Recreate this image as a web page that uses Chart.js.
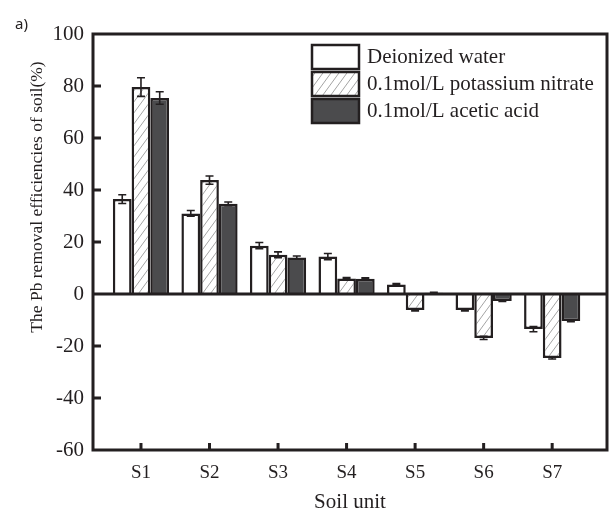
<!DOCTYPE html>
<html>
<head>
<meta charset="utf-8">
<script src="https://cdn.jsdelivr.net/npm/chart.js@4.4.1/dist/chart.umd.min.js"></script>
<style>
  html, body { margin: 0; padding: 0; background: #fff; }
</style>
</head>
<body>
<canvas id="chart" width="609" height="515"></canvas>
<script>
// Данные
const categories = ['S1', 'S2', 'S3', 'S4', 'S5', 'S6', 'S7'];
const seriesNames = ['Deionized water', '0.1mol/L potassium nitrate', '0.1mol/L acetic acid'];
const waterValues = [36.5, 31.0, 18.6, 14.4, 3.7, -6.2, -13.5];
const waterErrors = [1.7, 1.1, 1.2, 1.2, 0.3, 0.3, 1.0];
const nitrateValues = [79.6, 43.8, 15.1, 6.0, -6.2, -16.9, -24.6];
const nitrateErrors = [3.6, 1.6, 1.1, 0.3, 0.3, 0.6, 0.4];
const acidValues = [75.4, 34.7, 14.0, 5.9, 0.5, -2.7, -10.4];
const acidErrors = [2.4, 0.7, 0.6, 0.3, 0.2, 0.2, 0.3];
const yTicks = [-60, -40, -20, 0, 20, 40, 60, 80, 100];

const INK = '#231f20';
const DARK = '#4b4b4d';
const SERIF = '"Liberation Serif", "Times New Roman", serif';

const canvas = document.getElementById('chart');
const ctx = canvas.getContext('2d');

// Штриховка /// (крутой наклон, шаг ~11px)
function makeHatch() {
  const w = 8;
  const h = 11;
  const tile = document.createElement('canvas');
  tile.width = w;
  tile.height = h;
  const g = tile.getContext('2d');
  g.fillStyle = '#fff';
  g.fillRect(0, 0, w, h);
  g.strokeStyle = '#a4a4a4';
  g.lineWidth = 1;
  g.beginPath();
  g.moveTo(0, h); g.lineTo(w, 0);
  g.moveTo(-w, h); g.lineTo(0, 0);
  g.moveTo(w, h); g.lineTo(2 * w, 0);
  g.stroke();
  return ctx.createPattern(tile, 'repeat');
}
const hatch = makeHatch();
const fills = ['#ffffff', hatch, DARK];

const toPoints = (values) => values.map((v, i) => ({ x: i + 1, y: v }));

const datasets = [waterValues, nitrateValues, acidValues].map((values, k) => ({
  label: seriesNames[k],
  data: toPoints(values),
  errors: [waterErrors, nitrateErrors, acidErrors][k],
  backgroundColor: fills[k],
  borderColor: INK,
  borderWidth: 2.5,
  categoryPercentage: 0.82,
  barPercentage: 1.0,
}));

// Рамка, нулевая линия, засечки, планки погрешностей, легенда
const overlayPlugin = {
  id: 'overlay',
  afterDatasetsDraw(chart) {
    const { ctx, chartArea: a, scales: { x, y } } = chart;
    ctx.save();

    // нулевая линия
    const y0 = y.getPixelForValue(0);
    ctx.strokeStyle = INK;
    ctx.lineWidth = 3;
    ctx.beginPath();
    ctx.moveTo(a.left, y0);
    ctx.lineTo(a.right, y0);
    ctx.stroke();

    // планки погрешностей
    ctx.lineWidth = 1.6;
    chart.data.datasets.forEach((ds, i) => {
      chart.getDatasetMeta(i).data.forEach((bar, j) => {
        const v = ds.data[j].y;
        const e = ds.errors[j];
        const yl = y.getPixelForValue(v - e);
        const yh = y.getPixelForValue(v + e);
        ctx.beginPath();
        ctx.moveTo(bar.x, yl); ctx.lineTo(bar.x, yh);
        ctx.moveTo(bar.x - 4, yl); ctx.lineTo(bar.x + 4, yl);
        ctx.moveTo(bar.x - 4, yh); ctx.lineTo(bar.x + 4, yh);
        ctx.stroke();
      });
    });

    // рамка
    ctx.lineWidth = 3;
    ctx.strokeRect(a.left, a.top, a.right - a.left, a.bottom - a.top);

    // засечки внутрь
    ctx.beginPath();
    yTicks.forEach((t) => {
      if (t === 0 || t === y.min || t === y.max) return;
      const py = y.getPixelForValue(t);
      ctx.moveTo(a.left, py); ctx.lineTo(a.left + 8, py);
    });
    categories.forEach((c, i) => {
      const px = x.getPixelForValue(i + 1);
      ctx.moveTo(px, a.bottom); ctx.lineTo(px, a.bottom - 7);
    });
    ctx.stroke();

    // легенда
    ctx.font = '21px ' + SERIF;
    ctx.textBaseline = 'middle';
    ctx.textAlign = 'left';
    seriesNames.forEach((name, k) => {
      const by = 45 + k * 27;
      ctx.fillStyle = fills[k];
      ctx.fillRect(312, by, 47, 24);
      ctx.lineWidth = 2.5;
      ctx.strokeRect(312, by, 47, 24);
      ctx.fillStyle = INK;
      ctx.fillText(name, 367, by + 12);
    });

    // подпись оси Y
    ctx.save();
    ctx.translate(37.5, 197);
    ctx.rotate(-Math.PI / 2);
    ctx.textAlign = 'center';
    ctx.font = '17.5px ' + SERIF;
    ctx.fillText('The Pb removal efficiencies of soil(%)', 0, 0);
    ctx.restore();

    // метка панели
    ctx.font = '15px "Noto Sans", sans-serif';
    ctx.textBaseline = 'alphabetic';
    ctx.fillText('a)', 15, 29);

    ctx.restore();
  },
};

new Chart(ctx, {
  type: 'bar',
  data: { datasets },
  options: {
    responsive: false,
    animation: false,
    layout: { padding: { top: 34, right: 2, left: 0, bottom: 0 } },
    plugins: {
      legend: { display: false },
      tooltip: { enabled: false },
    },
    scales: {
      x: {
        type: 'linear',
        min: 0.3,
        max: 7.8,
        offset: false,
        afterBuildTicks: (scale) => {
          scale.ticks = categories.map((c, i) => ({ value: i + 1 }));
        },
        afterFit: (scale) => { scale.height = 65; },
        ticks: {
          callback: (v) => categories[v - 1],
          font: { family: SERIF, size: 19 },
          color: INK,
          padding: 12,
          maxRotation: 0,
          autoSkip: false,
        },
        grid: { display: false, drawTicks: false },
        border: { display: false },
        title: {
          display: true,
          text: 'Soil unit',
          font: { family: SERIF, size: 21 },
          color: INK,
          padding: { top: 0, bottom: 0 },
        },
      },
      y: {
        min: -60,
        max: 100,
        afterBuildTicks: (scale) => {
          scale.ticks = yTicks.map((v) => ({ value: v }));
        },
        afterFit: (scale) => { scale.width = 93; },
        ticks: {
          font: { family: SERIF, size: 21 },
          color: INK,
          padding: 9,
        },
        grid: { display: false, drawTicks: false },
        border: { display: false },
      },
    },
  },
  plugins: [overlayPlugin],
});
</script>
</body>
</html>
